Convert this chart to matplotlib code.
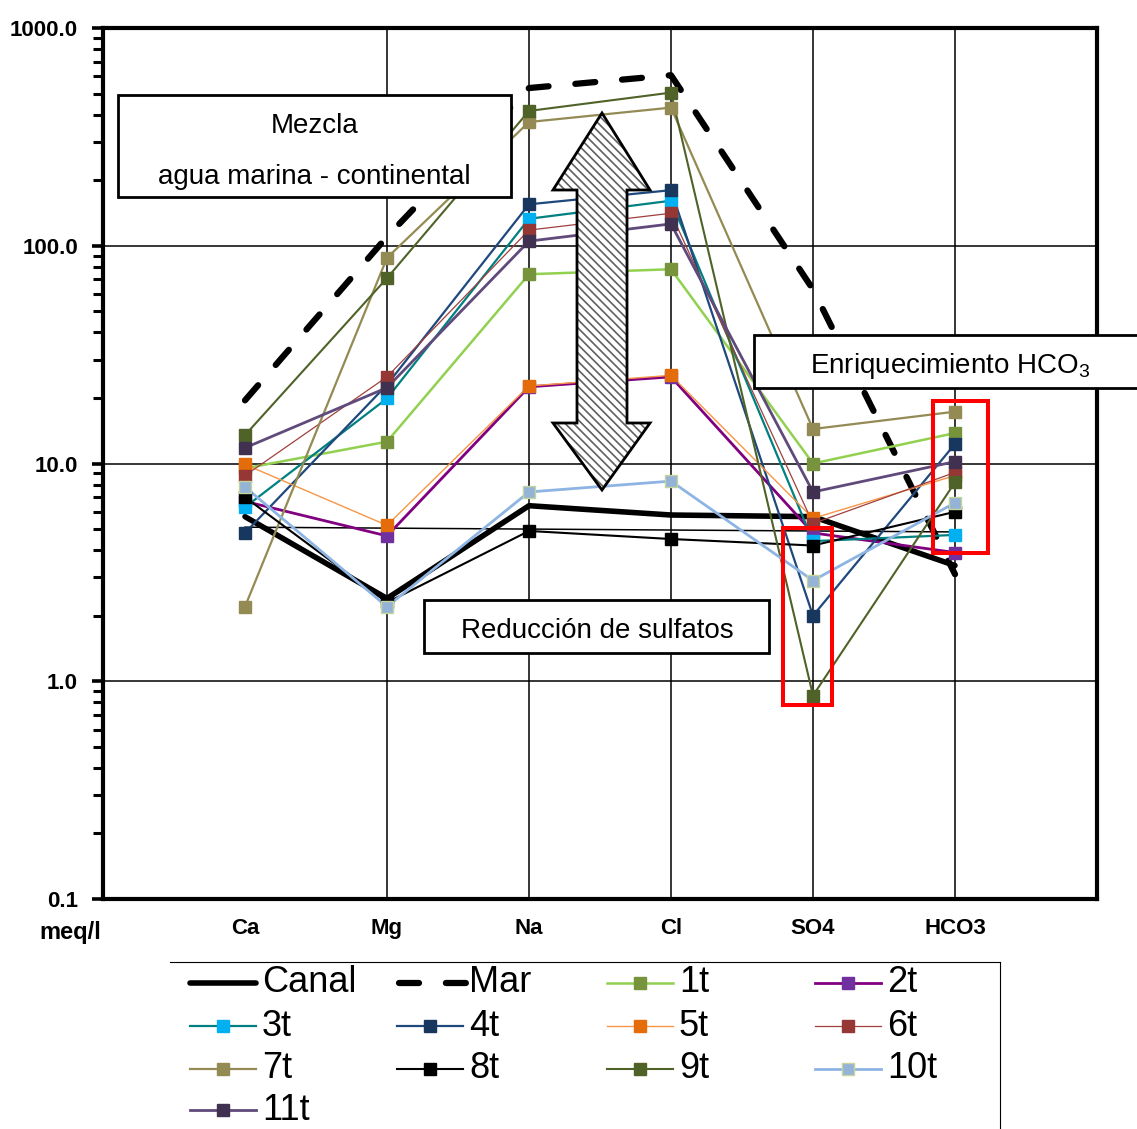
import numpy as np
import matplotlib
matplotlib.use("Agg")
import matplotlib.pyplot as plt
from matplotlib.lines import Line2D
from matplotlib.patches import Rectangle, Polygon
from matplotlib.ticker import LogLocator, NullFormatter, FixedLocator
from matplotlib import font_manager

# ---------------- data ----------------
categories = ["Ca", "Mg", "Na", "Cl", "SO4", "HCO3"]
ytick_values = [0.1, 1, 10, 100, 1000]
ytick_labels = ["0.1", "1.0", "10.0", "100.0", "1000.0"]

canal = [5.7, 2.4, 6.4, 5.8, 5.7, 3.4]
mar = [19.5, 110, 530, 607, 63, 3.1]
t1 = [9.5, 12.6, 74, 78, 10.0, 13.8]
t2 = [6.7, 4.65, 22.5, 25.0, 4.8, 3.9]
t3 = [6.3, 19.9, 133, 161, 4.4, 4.7]
t4 = [4.8, 23, 155, 180, 2.0, 12.3]
t5 = [9.9, 5.2, 22.7, 25.4, 5.6, 8.8]
t6 = [8.8, 25, 118, 141, 5.3, 9.1]
t7 = [2.2, 88, 370, 431, 14.4, 17.3]
t8 = [7.0, 2.3, 4.9, 4.5, 4.2, 6.0]
t9 = [13.5, 71, 416, 505, 0.86, 8.2]
t10 = [7.8, 2.2, 7.4, 8.3, 2.9, 6.6]
t11 = [11.8, 22.3, 105, 126, 7.4, 10.2]
guide_line = [5.1, 4.85]   # thin black line from Ca to HCO3

sample_names = ["1t", "2t", "3t", "4t", "5t", "6t", "7t", "8t", "9t", "10t", "11t"]
sample_values = [t1, t2, t3, t4, t5, t6, t7, t8, t9, t10, t11]

# styles: (line colour, marker colour, marker edge, line width)
sample_styles = [
    ("#92D050", "#77933C", "#77933C", 1.8),
    ("#800080", "#7030A0", "#7030A0", 2.0),
    ("#008080", "#00B0F0", "#00B0F0", 1.6),
    ("#1F497D", "#17375E", "#17375E", 1.6),
    ("#F79646", "#E46C0A", "#E46C0A", 1.0),
    ("#A0403E", "#953735", "#953735", 0.9),
    ("#948A54", "#948A54", "#948A54", 1.6),
    ("#000000", "#000000", "#000000", 1.5),
    ("#4F6228", "#4F6228", "#4F6228", 1.5),
    ("#8DB4E2", "#95B3D7", "#C3D69B", 2.0),
    ("#604A7B", "#403151", "#403151", 2.0),
]


def has_font(name):
    try:
        font_manager.findfont(name, fallback_to_default=False)
        return True
    except Exception:
        return False


BASE = "Liberation Sans" if has_font("Liberation Sans") else "DejaVu Sans"

plt.rcParams["font.family"] = [BASE, "DejaVu Sans"]
plt.rcParams["mathtext.default"] = "regular"
plt.rcParams["hatch.linewidth"] = 1.2

W, H = 1137, 1129
fig = plt.figure(figsize=(W / 100, H / 100), dpi=100)
L, R, T, B = 103, 1097, 28, 899
ax = fig.add_axes([L / W, 1 - B / H, (R - L) / W, (B - T) / H])


def fx(px):
    return px / W


def fy(py):
    return 1 - py / H


ax.set_yscale("log")
ax.set_ylim(ytick_values[0], ytick_values[-1])
x = np.arange(1, len(categories) + 1)
ax.set_xlim(0, len(categories) + 1)

# grid
ax.yaxis.set_major_locator(FixedLocator(ytick_values))
ax.set_yticklabels(ytick_labels, fontsize=16, fontweight="bold")
ax.yaxis.set_minor_locator(LogLocator(base=10, subs=np.arange(2, 10)))
ax.yaxis.set_minor_formatter(NullFormatter())
ax.grid(True, axis="y", which="major", color="black", lw=1.1, zorder=1)
ax.vlines(x[1:], ytick_values[0], ytick_values[-1], color="black", lw=1.1, zorder=1)
ax.tick_params(axis="y", which="major", length=8, width=2.6, direction="out", pad=10)
ax.tick_params(axis="y", which="minor", length=7, width=2.2, direction="out")
ax.set_xticks(x)
ax.set_xticklabels(categories, fontsize=16, fontweight="bold")
ax.tick_params(axis="x", length=0, pad=14)
for s in ax.spines.values():
    s.set_linewidth(3)
ax.set_axisbelow(True)

# series
ax.plot(x[[0, -1]], guide_line, color="black", lw=1.1, zorder=2)
ax.plot(x, canal, color="black", lw=4.0, solid_joinstyle="round",
        solid_capstyle="round", zorder=3)
ax.plot(x, mar, color="black", lw=4.5, dashes=(3.2, 4.3),
        dash_capstyle="round", zorder=3)
for vals, (lc, mc, me, lw) in zip(sample_values, sample_styles):
    ax.plot(x, vals, color=lc, lw=lw, zorder=4)
    ax.plot(x, vals, ls="none", marker="s", ms=8.5, mfc=mc, mec=me, mew=1.0, zorder=5)

# ---------------- annotations (figure pixel positions) ----------------
def box(x0, y0, x1, y1, lw=2.0):
    fig.patches.append(Rectangle((fx(x0), fy(y1)), fx(x1) - fx(x0), fy(y0) - fy(y1),
                                 transform=fig.transFigure, facecolor="white",
                                 edgecolor="black", lw=lw, zorder=10))


def redbox(x0, y0, x1, y1):
    fig.patches.append(Rectangle((fx(x0), fy(y1)), fx(x1) - fx(x0), fy(y0) - fy(y1),
                                 transform=fig.transFigure, facecolor="none",
                                 edgecolor="#FF0000", lw=2.9, zorder=11))


box(118, 95, 511, 197)
fig.text(fx(315), fy(133), "Mezcla", fontsize=20, ha="center", va="baseline", zorder=12)
fig.text(fx(314), fy(184), "agua marina - continental", fontsize=20, ha="center",
         va="baseline", zorder=12)

box(754, 335, 1150, 388)
fig.text(fx(950), fy(373), "Enriquecimiento HCO$_3$", fontsize=20, ha="center",
         va="baseline", zorder=12)

box(424, 600, 769, 653)
fig.text(fx(597), fy(638), "Reducción de sulfatos", fontsize=20, ha="center",
         va="baseline", zorder=12)

redbox(783, 528, 832, 705)
redbox(933, 401, 988, 553)

# double arrow
arrow_px = [(602, 113), (650, 190), (627, 190), (627, 423), (650, 423), (602, 490),
            (553, 423), (577, 423), (577, 190), (553, 190)]
arrow_fig = [(fx(a), fy(b)) for a, b in arrow_px]
fig.patches.append(Polygon(arrow_fig, closed=True, transform=fig.transFigure,
                           facecolor="white", edgecolor="#606060", lw=0,
                           hatch="\\\\\\\\", zorder=10))
fig.patches.append(Polygon(arrow_fig, closed=True, transform=fig.transFigure,
                           facecolor="none", edgecolor="black", lw=2.0, zorder=11))

# axis unit label
fig.text(fx(70), fy(933), "meq/l", fontsize=17, fontweight="bold", ha="center", va="center")

# ---------------- legend (manual) ----------------
fig.add_artist(Line2D([fx(170), fx(1000)], [fy(962), fy(962)], color="black", lw=0.8,
                      transform=fig.transFigure))
fig.add_artist(Line2D([fx(1000), fx(1000)], [fy(962), fy(1129)], color="black", lw=0.8,
                      transform=fig.transFigure))

col_x = [190, 397, 607, 815]
row_y = [983, 1026, 1069, 1110]
legend_names = ["Canal", "Mar"] + sample_names
for i, name in enumerate(legend_names):
    r, c = divmod(i, 4)
    x0 = col_x[c]
    yy = row_y[r]
    xs = [fx(x0), fx(x0 + 66)]
    ys = [fy(yy), fy(yy)]
    if name == "Canal":
        fig.add_artist(Line2D(xs, ys, color="black", lw=4.0, solid_capstyle="round",
                              transform=fig.transFigure))
    elif name == "Mar":
        fig.add_artist(Line2D([fx(x0 + 2), fx(x0 + 72)], ys, color="black", lw=4.5,
                              dashes=(3.2, 4.3), dash_capstyle="round",
                              transform=fig.transFigure))
    else:
        lc, mc, me, lw = sample_styles[i - 2]
        fig.add_artist(Line2D(xs, ys, color=lc, lw=lw, transform=fig.transFigure))
        fig.add_artist(Line2D([fx(x0 + 33)], [fy(yy)], ls="none", marker="s", ms=8.5,
                              mfc=mc, mec=me, mew=1.0, transform=fig.transFigure))
    fig.text(fx(x0 + 72), fy(yy), name, fontsize=26, ha="left", va="center")

fig.savefig("out.png", dpi=100)
